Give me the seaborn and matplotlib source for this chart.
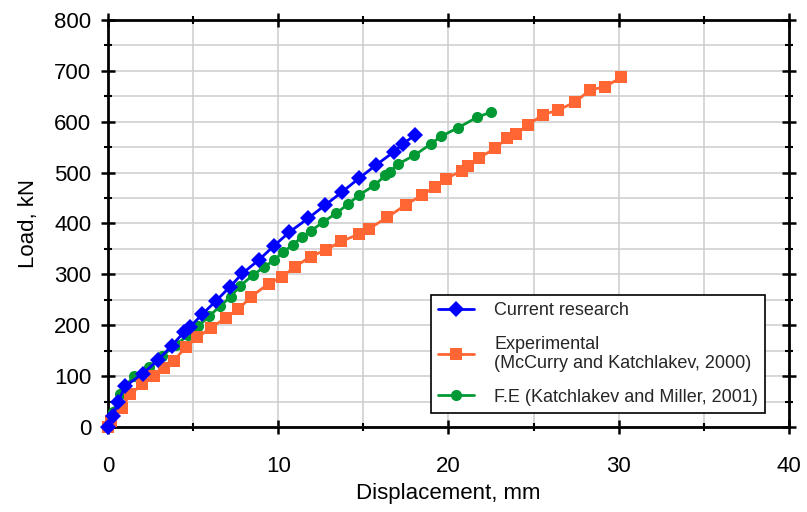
import matplotlib
matplotlib.use("Agg")
import matplotlib.pyplot as plt
from matplotlib.ticker import MultipleLocator
import numpy as np
import pandas as pd
import seaborn as sns

# Load–displacement curves
current_disp = [0, 0.3, 0.6, 1.0, 2.05, 2.95, 3.75, 4.45, 4.8, 5.55, 6.35, 7.15,
                7.9, 8.85, 9.75, 10.65, 11.75, 12.75, 13.75, 14.75, 15.75, 16.8,
                17.3, 18.05]
current_load = [0, 22, 50, 80, 105, 132, 160, 186, 196, 222, 248, 275,
                302, 328, 356, 383, 410, 436, 462, 489, 515, 541, 556, 574]

exp_disp = [0, 0.2, 0.8, 1.3, 2.0, 2.7, 3.3, 3.85, 4.6, 5.25, 6.05, 6.95, 7.65,
            8.4, 9.45, 10.2, 11.0, 11.9, 12.8, 13.7, 14.75, 15.35, 16.4, 17.5,
            18.45, 19.2, 19.85, 20.8, 21.15, 21.8, 22.75, 23.45, 23.95, 24.65,
            25.55, 26.45, 27.45, 28.3, 29.2, 30.15]
exp_load = [0, 12, 37, 64, 84, 100, 115, 130, 158, 176, 195, 215, 231,
            256, 282, 295, 315, 335, 348, 365, 379, 390, 412, 437,
            456, 472, 488, 504, 513, 529, 548, 568, 576, 593,
            614, 623, 639, 662, 669, 687]

fe_disp = [0, 0.3, 0.7, 1.5, 2.4, 3.2, 4.0, 4.7, 5.3, 5.95, 6.6, 7.2, 7.75,
           8.5, 9.15, 9.75, 10.3, 10.85, 11.4, 11.95, 12.6, 13.4, 14.1, 14.75,
           15.65, 16.3, 16.55, 17.05, 18.0, 18.95, 19.55, 20.55, 21.7, 22.5]
fe_load = [0, 30, 65, 100, 118, 140, 162, 180, 198, 218, 238, 256, 277,
           298, 314, 328, 344, 358, 374, 386, 402, 420, 438, 456,
           475, 495, 502, 517, 534, 556, 571, 588, 609, 619]

series_names = ["Current research",
                "Experimental\n(McCurry and Katchlakev, 2000)",
                "F.E (Katchlakev and Miller, 2001)"]

df = pd.concat([
    pd.DataFrame({"disp": current_disp, "load": current_load, "series": series_names[0]}),
    pd.DataFrame({"disp": exp_disp, "load": exp_load, "series": series_names[1]}),
    pd.DataFrame({"disp": fe_disp, "load": fe_load, "series": series_names[2]}),
], ignore_index=True)

sns.set_theme(style="white")
plt.rcParams["font.family"] = ["Liberation Sans", "DejaVu Sans"]

colors = {series_names[0]: "#0000FF",
          series_names[1]: "#FF6633",
          series_names[2]: "#009933"}
markers = {series_names[0]: "D",
           series_names[1]: "s",
           series_names[2]: "o"}
sizes = {series_names[0]: 8.5, series_names[1]: 8, series_names[2]: 8}

fig = plt.figure(figsize=(8.07, 5.12), dpi=100)
ax = fig.add_axes([0.1338, 0.166, 0.9777 - 0.1338, 0.961 - 0.166])

# draw in reverse so the blue curve sits on top
for name in series_names[::-1]:
    sub = df[df["series"] == name]
    sns.lineplot(data=sub, x="disp", y="load", ax=ax, sort=False,
                 color=colors[name], marker=markers[name],
                 markersize=sizes[name], markeredgewidth=0,
                 linewidth=2, label=name, clip_on=False, zorder=3)

ax.set_xlim(0, 40)
ax.set_ylim(0, 800)
ax.xaxis.set_major_locator(MultipleLocator(10))
ax.xaxis.set_minor_locator(MultipleLocator(5))
ax.yaxis.set_major_locator(MultipleLocator(100))
ax.yaxis.set_minor_locator(MultipleLocator(50))

ax.grid(True, which="both", color="#CDCDCD", linewidth=1.1, zorder=0)
ax.set_axisbelow(True)

for side in ["left", "right", "top", "bottom"]:
    ax.spines[side].set_visible(True)
    ax.spines[side].set_color("black")
    ax.spines[side].set_linewidth(2)

ax.tick_params(which="major", direction="inout", length=10, width=1.8,
               color="black", labelsize=16, labelcolor="black",
               top=True, right=True, bottom=True, left=True)
ax.tick_params(which="minor", direction="inout", length=6, width=1.5,
               color="black", top=True, right=True, bottom=True, left=True)
ax.tick_params(axis="x", which="major", pad=16)
ax.tick_params(axis="y", which="major", pad=7)

ax.set_xlabel("Displacement, mm", fontsize=16, color="black", labelpad=4)
ax.set_ylabel("Load, kN", fontsize=16, color="black", labelpad=11)

handles, labels = ax.get_legend_handles_labels()
order = [labels.index(n) for n in series_names]
leg = ax.legend([handles[i] for i in order], [labels[i] for i in order],
                loc="lower right", bbox_to_anchor=(0.965, 0.035),
                fontsize=13, frameon=True, fancybox=False, shadow=False,
                edgecolor="black", framealpha=1, handlelength=2.0,
                handletextpad=1.1, borderpad=0.4, labelspacing=0.9,
                borderaxespad=0)
leg.get_frame().set_linewidth(1.2)

fig.savefig("out.png", dpi=100)
